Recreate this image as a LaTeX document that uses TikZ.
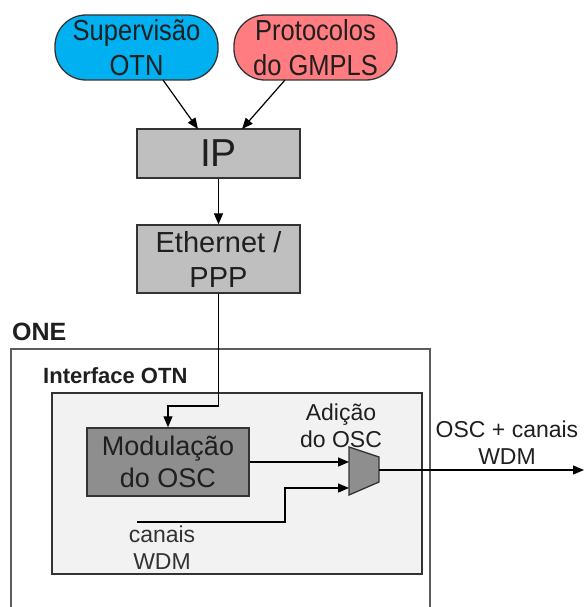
\documentclass[tikz,border=0pt]{standalone}
\usepackage{fontspec}
\setmainfont{Liberation Sans}
\newfontfamily\narrowfont[FakeStretch=0.88]{Liberation Sans}
\usetikzlibrary{arrows.meta}
\definecolor{cyanfill}{HTML}{00B0F0}
\definecolor{salmonfill}{HTML}{FF7C80}
\definecolor{boxgray}{HTML}{BFBFBF}
\definecolor{darkgray}{HTML}{8E8E8E}
\definecolor{panel}{HTML}{F2F2F2}
\definecolor{txt}{HTML}{1F1F1F}
\definecolor{edge}{HTML}{333333}
\tikzset{
  pill/.style={draw=edge, line width=1.3pt, rounded corners=31pt, minimum width=163pt, minimum height=65pt, inner sep=0pt, align=center, text=txt, font=\narrowfont\fontsize{29}{35}\selectfont},
  layerbox/.style={draw=edge, line width=1.3pt, fill=boxgray, minimum width=163pt, inner sep=0pt, align=center, text=txt},
  arr/.style={draw=black, line width=1.2pt, -{Triangle[length=11pt,width=9pt]}},
  lbl/.style={inner sep=0pt, align=center, text=txt, font=\fontsize{23}{27}\selectfont},
}
\begin{document}
\begin{tikzpicture}[x=1pt,y=-1pt]
\useasboundingbox (0,0) rectangle (584,607);
% top pills
\node[pill, fill=cyanfill] (sup) at (136.5,47.5) {Supervisão\\OTN};
\node[pill, fill=salmonfill] (gmp) at (315.5,47.5) {Protocolos\\do GMPLS};
% IP and Ethernet
\node[layerbox, minimum height=49pt, font=\fontsize{39}{45}\selectfont] (ip) at (218.5,153.5) {IP};
\node[layerbox, minimum height=68pt, font=\fontsize{29}{35}\selectfont] (eth) at (218.5,259) {Ethernet /\\PPP};
% ONE outer box (open at bottom)
\draw[draw=edge!80, line width=1.3pt] (11,612) -- (11,349) -- (430,349) -- (430,612);
\node[anchor=west, inner sep=0pt, text=txt, font=\bfseries\fontsize{25}{30}\selectfont] (one) at (12,332) {ONE};
% Interface OTN panel
\node[anchor=west, inner sep=0pt, text=txt, font=\bfseries\fontsize{22}{26}\selectfont] (iflbl) at (43,376) {Interface OTN};
\node[draw=edge, line width=1.4pt, fill=panel, minimum width=370pt, minimum height=181pt, inner sep=0pt] (panel) at (237,483.5) {};
% Modulacao box
\node[draw=edge, line width=1.4pt, fill=darkgray, minimum width=162pt, minimum height=68pt, inner sep=0pt, align=center, text=txt, font=\fontsize{27}{32}\selectfont] (mod) at (168,462) {Modulação\\do OSC};
% multiplexer trapezoid
\coordinate (m1) at (349,447);
\coordinate (m2) at (379,457);
\coordinate (m3) at (379,482);
\coordinate (m4) at (349,495);
\draw[draw=edge, line width=1.3pt, fill=darkgray] (m1) -- (m2) -- (m3) -- (m4) -- cycle;
\coordinate (muxin1) at (349,462);
\coordinate (muxin2) at (349,488);
\coordinate (muxout) at (379,470);
% labels
\node[lbl] (adlbl) at (341,426) {Adição\\do OSC};
\node[lbl] (outlbl) at (507,443) {OSC + canais\\WDM};
\node[lbl, text=edge] (wdmlbl) at (162,548) {canais\\WDM};
% connectors
\coordinate (supout) at (163,80);
\coordinate (gmpout) at (285,80);
\coordinate (ipin1) at (198,129);
\coordinate (ipin2) at (242,129);
\draw[arr] (supout) -- (ipin1);
\draw[arr] (gmpout) -- (ipin2);
\draw[arr] (ip.south) -- (eth.north);
\coordinate (bend1) at (218.5,406);
\coordinate (bend2) at (168,406);
\draw[arr] (eth.south) -- (bend1) -- (bend2) -- (mod.north);
\draw[arr] (mod.east |- muxin1) -- (muxin1);
\coordinate (cstart) at (137,522);
\coordinate (cb1) at (285,522);
\coordinate (cb2) at (285,488);
\draw[arr] (cstart) -- (cb1) -- (cb2) -- (muxin2);
\coordinate (outend) at (584,470);
\draw[arr] (muxout) -- (outend);
\end{tikzpicture}
\end{document}
